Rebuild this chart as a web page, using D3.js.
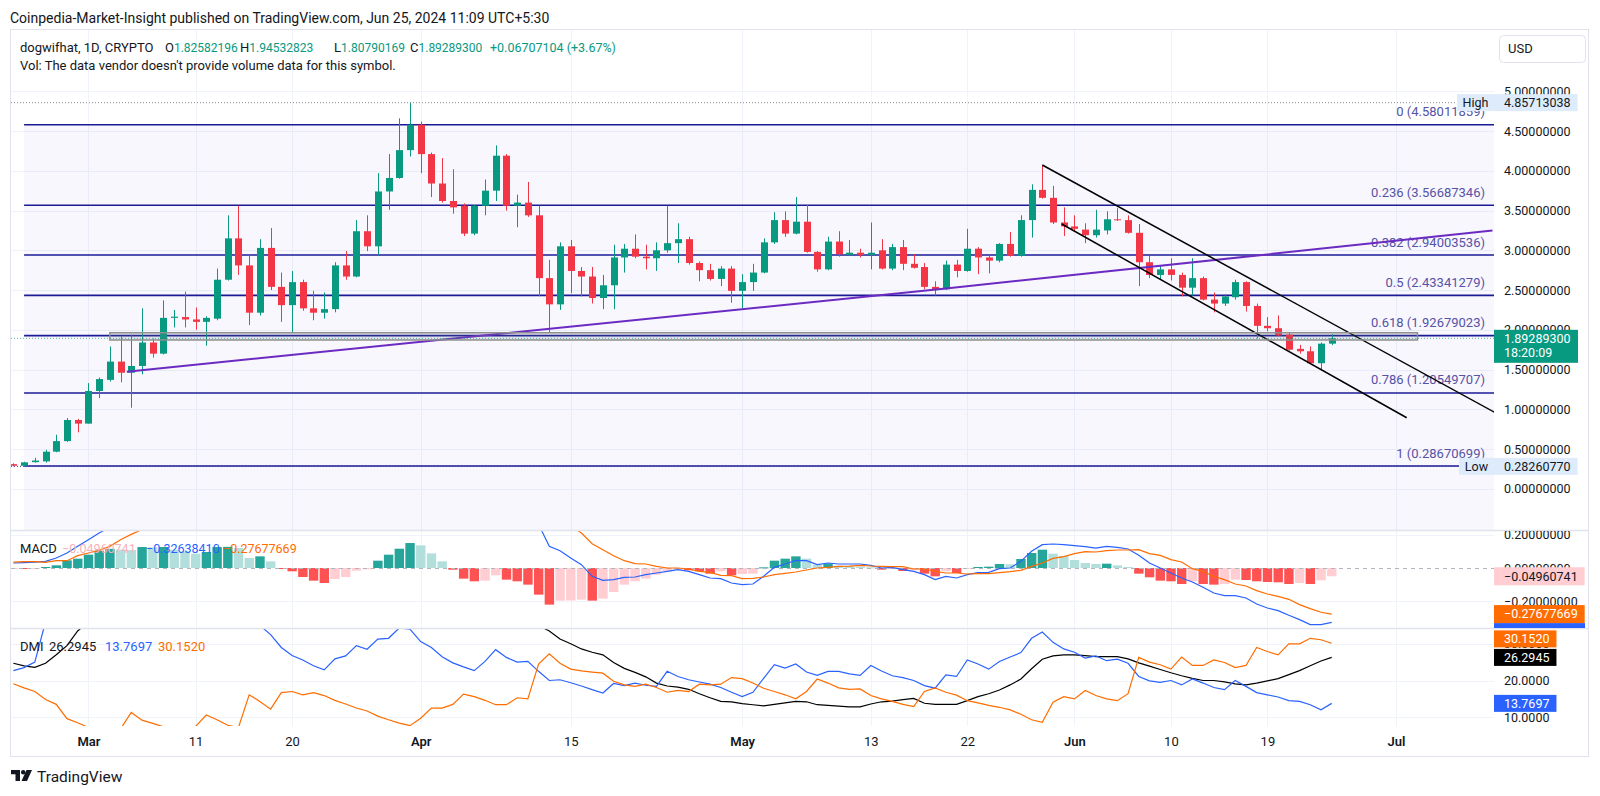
<!DOCTYPE html>
<html><head><meta charset="utf-8">
<script src="https://cdn.jsdelivr.net/npm/d3@7"></script>
<style>
body{margin:0;background:#fff;}
svg{display:block;font-family:Roboto,"Noto Sans",sans-serif;}
</style></head><body>
<svg id="c" width="1600" height="796"></svg>
<script>
// ---------------- DATA ----------------
const firstDay = "2024-02-23", lastDay = "2024-06-25";
const openP = [
 .31,.29,.335,.345,.467,.60,.865,.82,1.23,1.37,
 1.60,1.46,1.545,1.84,1.70,2.15,2.16,2.13,2.10,2.14,
 2.63,3.15,2.81,2.215,3.03,2.54,2.31,2.60,2.27,2.215,
 2.26,2.81,2.67,3.24,3.05,3.74,3.91,4.26,4.58,4.21,
 3.84,3.62,3.56,3.21,3.56,3.75,4.19,3.56,3.60,3.44,
 2.65,2.32,3.05,2.74,2.67,2.40,2.56,2.91,3.02,2.92,
 2.90,3.00,3.09,3.14,2.84,2.75,2.64,2.77,2.49,2.60,
 2.72,3.10,3.38,3.21,3.36,2.98,2.76,3.11,2.94,2.97,
 2.94,3.00,2.77,3.04,2.83,2.79,2.54,2.51,2.82,2.74,
 3.02,2.91,2.87,3.08,2.93,3.38,3.76,3.66,3.35,3.30,
 3.26,3.19,3.25,3.39,3.38,3.22,2.85,2.69,2.76,2.69,
 2.53,2.65,2.38,2.33,2.41,2.60,2.30,2.05,2.02,1.94,
 1.76,1.73,1.58,1.82582196];
const highP = [
 .32,.34,.39,.49,.68,.89,.88,1.33,1.40,1.79,
 1.92,1.94,2.27,1.89,2.37,2.25,2.48,2.28,2.17,2.77,
 3.44,3.56,2.94,3.14,3.28,2.72,2.74,2.63,2.49,2.47,
 2.85,2.99,3.38,3.44,3.97,4.21,4.66,4.85713038,4.62,4.23,
 4.16,4.02,3.59,3.57,3.89,4.32,4.21,3.70,3.86,3.56,
 2.88,3.10,3.13,2.79,2.79,2.69,3.07,3.08,3.20,3.07,
 3.10,3.56,3.34,3.17,2.86,2.83,2.80,2.80,2.70,2.83,
 3.15,3.48,3.49,3.67,3.57,2.99,3.17,3.24,3.13,3.02,
 3.35,3.14,3.08,3.13,2.95,2.84,2.61,2.87,2.88,3.27,
 3.04,2.94,3.09,3.23,3.44,3.83,4.07,3.81,3.54,3.44,
 3.34,3.51,3.49,3.53,3.44,3.33,2.93,2.81,2.90,2.72,
 2.90,2.67,2.47,2.45,2.63,2.61,2.33,2.16,2.18,1.97,
 1.81,1.79,1.84,1.94532823];
const lowP = [
 .2826077,.287,.33,.33,.46,.59,.71,.82,1.14,1.35,
 1.34,1.02,1.44,1.65,1.69,2.03,2.03,2.00,1.80,2.12,
 2.62,2.69,2.06,2.18,2.50,2.10,1.96,2.24,2.12,2.14,
 2.22,2.63,2.66,2.99,2.94,3.51,3.90,4.18,3.97,3.67,
 3.60,3.46,3.18,3.19,3.44,3.62,3.50,3.29,3.42,2.42,
 1.96,2.25,2.46,2.42,2.33,2.26,2.26,2.72,2.90,2.76,
 2.74,2.97,2.84,2.82,2.61,2.62,2.55,2.34,2.27,2.49,
 2.71,3.08,3.17,3.20,2.97,2.73,2.75,2.92,2.93,2.91,
 2.76,2.76,2.75,2.75,2.77,2.51,2.43,2.50,2.66,2.73,
 2.70,2.71,2.85,2.92,2.92,3.16,3.65,3.33,3.18,3.24,
 3.09,3.16,3.20,3.37,3.21,2.55,2.65,2.64,2.62,2.42,
 2.43,2.37,2.22,2.30,2.38,2.23,1.89,1.98,1.92,1.74,
 1.70,1.57,1.49,1.80790169];
const closeP = [
 .29,.333,.355,.467,.60,.865,.82,1.23,1.38,1.60,
 1.46,1.545,1.84,1.70,2.15,2.165,2.13,2.10,2.15,2.63,
 3.15,2.81,2.215,3.03,2.54,2.31,2.60,2.27,2.215,2.26,
 2.81,2.67,3.24,3.05,3.74,3.91,4.26,4.58,4.21,3.84,
 3.62,3.54,3.21,3.56,3.75,4.19,3.56,3.60,3.44,2.65,
 2.32,3.05,2.74,2.67,2.40,2.56,2.91,3.02,2.92,2.90,
 3.00,3.09,3.14,2.84,2.75,2.64,2.77,2.49,2.60,2.72,
 3.10,3.38,3.21,3.36,2.98,2.76,3.11,2.95,2.97,2.94,
 2.97,2.77,3.04,2.83,2.78,2.54,2.51,2.82,2.74,3.02,
 2.91,2.87,3.08,2.93,3.38,3.76,3.66,3.35,3.30,3.27,
 3.19,3.26,3.39,3.38,3.22,2.85,2.69,2.76,2.69,2.53,
 2.65,2.38,2.33,2.42,2.60,2.30,2.05,2.02,1.93,1.75,
 1.73,1.58,1.82582196,1.892893];

const macdLine = [
 .03,.032,.035,.04,.06,.09,.13,.17,.21,.245,
 .28,.31,.357,.387,.42,.43,.447,.454,.488,.55,
 .582,.605,.56,.588,.568,.521,.501,.454,.413,.376,
 .384,.382,.416,.422,.485,.541,.606,.678,.698,.672,
 .634,.581,.511,.475,.46,.481,.438,.408,.363,.263,
 .13,.104,.06,.02,-.05,-.074,-.07,-.056,-.054,-.04,
 -.03,-.02,-.01,-.02,-.04,-.06,-.064,-.09,-.10,-.096,
 -.05,.004,.024,.046,.044,.02,.03,.024,.024,.024,
 .016,0,.004,-.01,-.02,-.04,-.07,-.05,-.06,-.04,
 -.028,-.026,-.004,0,.04,.10,.14,.144,.14,.134,
 .128,.12,.13,.124,.114,.076,.03,0,-.03,-.06,
 -.084,-.116,-.15,-.166,-.166,-.18,-.216,-.24,-.256,-.284,
 -.31,-.34,-.34,-.3263841];
const signalLine = [
 .035,.038,.038,.034,.044,.044,.074,.09,.106,.13,
 .17,.202,.231,.263,.294,.32,.347,.368,.392,.424,
 .455,.485,.50,.518,.528,.526,.521,.508,.489,.466,
 .45,.436,.432,.43,.441,.461,.49,.528,.562,.584,
 .594,.591,.575,.555,.536,.525,.508,.488,.463,.423,
 .35,.30,.255,.21,.146,.11,.074,.044,.026,.024,
 .01,0,0,-.006,-.02,-.026,-.044,-.046,-.064,-.062,
 -.054,-.04,-.032,-.024,-.012,0,.004,.01,.011,.016,
 .012,.01,.008,.008,-.006,-.006,-.02,-.03,-.03,-.036,
 -.034,-.034,-.028,-.022,-.014,.01,.03,.058,.068,.086,
 .098,.096,.104,.108,.108,.11,.086,.076,.05,.036,
 -.004,-.02,-.05,-.07,-.096,-.108,-.136,-.156,-.17,-.188,
 -.22,-.244,-.266,-.27677669];
const macdHist = [
 -.005,-.006,-.003,.006,.016,.046,.056,.08,.104,.115,
 .11,.108,.126,.124,.126,.11,.10,.086,.096,.126,
 .127,.12,.06,.07,.04,-.005,-.02,-.054,-.076,-.09,
 -.066,-.054,-.016,-.008,.044,.08,.116,.15,.136,.088,
 .04,-.01,-.064,-.08,-.076,-.044,-.07,-.08,-.10,-.16,
 -.22,-.196,-.195,-.19,-.196,-.184,-.144,-.10,-.08,-.064,
 -.04,-.02,-.01,-.014,-.02,-.034,-.02,-.044,-.036,-.034,
 .004,.044,.056,.07,.056,.02,.026,.014,.013,.008,
 .004,-.01,-.004,-.018,-.014,-.034,-.05,-.02,-.03,-.004,
 .006,.008,.024,.022,.054,.09,.11,.086,.072,.048,
 .03,.024,.026,.016,.006,-.034,-.056,-.076,-.08,-.096,
 -.08,-.096,-.10,-.096,-.07,-.072,-.08,-.084,-.086,-.096,
 -.09,-.096,-.074,-.04960741];

const adx = [
 24.7,24,23.6,24.7,27,29.5,33.5,36,39,42,
 44,46,48,50,51,52,53,53,53,53,
 53,54,53,52,51,49,47,45,44,43,
 42,41,40,40,40,41,42,43,43,42,
 41,40,39,38,37.5,37,36.5,36,35.5,35,
 33.5,31.3,30,28.6,27.7,27,24.9,23.3,22.2,21,
 19.3,18.5,18.2,17.6,16.4,15.3,14.3,14.2,13.7,13.4,
 13.1,13.5,13.9,14.3,14.2,13.4,13.2,13,12.8,12.8,
 13.6,14.2,14.4,14.8,15.1,13.8,13.5,13.5,13.5,14.5,
 15.6,16.4,17.4,18.8,20.4,23.2,25.8,26.7,27,27,
 26.8,26.5,26.5,26.5,25.9,24.8,23.9,23,22.1,21.3,
 20.6,20,20,19.6,19.1,18.8,19.3,19.9,20.5,21.6,
 22.7,24,25.3,26.2945];
const plusDI = [
 22.7,23.5,25,36,45,50,48,55,52,50,
 48,45,44,46,44,42,40,37,34.4,38,
 42,44,38,35,32.5,29,26.8,25.6,24,22.9,
 25.9,26.7,29.5,28.5,31.3,31.5,34.3,34,30.6,29,
 26.5,24.8,23.7,22.7,25.2,28.4,26.3,25,25.2,22.5,
 20,20.2,19.4,18.5,17.5,16.6,19.2,18.6,19.3,18.7,
 18.4,22.5,21.1,20.2,19.6,19,18.1,16.8,15.6,16.8,
 20.6,24.3,23.4,24.5,22.3,21.4,22.5,22.5,21.8,21.4,
 24.1,22.6,21.3,20.8,20,18.6,17.9,21.5,21.1,25.6,
 24.5,23.1,25.2,26.4,27.6,31.5,33.2,30.4,28.6,27.7,
 26.1,26.7,25.4,25.8,24.7,21.1,19.9,19.5,20,18.8,
 20.4,19.3,18.1,17.5,20,18.4,16.7,16.1,15.5,14.5,
 14.3,13.4,12,13.7697];
const minusDI = [
 19.1,18,17,14.8,13.5,9.6,8.5,7.2,6.5,6.2,
 6.8,11.3,9.2,8.3,7.4,6.9,6.5,7.5,10.6,9.3,
 7.8,7.2,16.1,14.3,12.2,16.7,17,16.1,16.7,15.9,
 14.6,13.6,12.5,11.7,10.3,9.3,8.4,7.7,9.7,12.5,
 12.5,13.5,16.3,15.6,14.6,13.4,13.4,15.3,15,24.5,
 27.3,24.7,23.1,22.6,22.3,22,19.8,18.8,18.4,19,
 18.1,16.8,17.3,17,19,18.8,19,20.8,20.5,19.3,
 17.9,17,16.1,15,17,20.4,19.3,18,17.6,17.7,
 15.9,15,14.3,13.5,12.9,17,18,16.8,16,14.5,
 13.9,13.2,12.7,12,10.8,9.3,8.6,14.1,15.6,15,
 17.3,15.9,15,14.5,16.4,26.3,25,24.3,23.1,26.4,
 24.1,24.1,25.6,24.9,23.5,24.1,29,27.9,27,30,
 30,31.5,31.1,30.152];

const fibRatios = [0, 0.236, 0.382, 0.5, 0.618, 0.786, 1];
const fibPrices = [4.58011859, 3.56687346, 2.94003536, 2.43341279, 1.92679023, 1.20549707, 0.28670699];
const fibStart = "2024-02-24";
const trendLine = [["2024-03-04T14:00:00Z", 1.473], ["2024-05-20T00:00:00Z", 2.52], ["2024-07-10T00:00:00Z", 3.2487]];
const channelUpper = [["2024-05-29T00:00:00Z", 4.073], ["2024-07-10T12:00:00Z", 0.94]];
const channelLower = [["2024-05-30T19:30:00Z", 3.331], ["2024-07-02T00:00:00Z", 0.894]];
const zoneBox = {from: "2024-03-03", to: "2024-07-03", top: 1.963, bottom: 1.872};
const highValue = 4.85713038, lowValue = 0.2826077;

const priceTicks = [0,0.5,1,1.5,2,2.5,3,3.5,4,4.5,5];
const macdTicks = [-0.2, 0, 0.2];
const dmiTicks = [10, 20, 30];
const timeTickDates = ["2024-03-01","2024-03-11","2024-03-20","2024-04-01","2024-04-15","2024-05-01","2024-05-13","2024-05-22","2024-06-01","2024-06-10","2024-06-19","2024-07-01"];
const timeTickLabels = ["Mar","11","20","Apr","15","May","13","22","Jun","10","19","Jul"];

// ---------------- LAYOUT ----------------
const plotL = 11, plotR = 1494, axisR = 1588;
const mainTop = 30, mainBot = 530, macdTop = 531, macdBot = 628, dmiTop = 629, dmiBot = 726;
const UP = "#089981", DOWN = "#f23645", TXT = "#131722", GRID = "#f0f3fa";
const FONT = 'Roboto,"Noto Sans",sans-serif';

const dates = d3.utcDay.range(new Date(firstDay + "T00:00:00Z"), d3.utcDay.offset(new Date(lastDay + "T00:00:00Z"), 1));
const pd = s => new Date(s.length === 10 ? s + "T00:00:00Z" : s);

const x = d3.scaleUtc().domain([pd("2024-03-01"), pd("2024-07-01")]).range([88.4, 1396]);
const yP = d3.scaleLinear().domain([0, 5]).range([488.8, 91.3]);
const yM = d3.scaleLinear().domain([-0.2, 0.2]).range([601.3, 534.7]);
const yD = d3.scaleLinear().domain([10, 30]).range([717.2, 643.8]);

const svg = d3.select("#c");
const defs = svg.append("defs");
function clip(id, x0, y0, w, h) {
  defs.append("clipPath").attr("id", id).append("rect").attr("x", x0).attr("y", y0).attr("width", w).attr("height", h);
}
clip("cMain", plotL, mainTop, plotR - plotL, mainBot - mainTop);
clip("cMacd", plotL, macdTop, plotR - plotL, macdBot - macdTop);
clip("cDmi", plotL, dmiTop, plotR - plotL, dmiBot - dmiTop);
clip("aMain", plotR, mainTop, axisR - plotR, mainBot - mainTop);
clip("aMacd", plotR, macdTop, axisR - plotR, macdBot - macdTop);
clip("aDmi", plotR, dmiTop, axisR - plotR, dmiBot - dmiTop);

svg.append("rect").attr("width", 1600).attr("height", 796).attr("fill", "#fff");

// header
svg.append("text").attr("x", 10).attr("y", 22.5).attr("font-size", 14).attr("fill", TXT)
  .text("Coinpedia-Market-Insight published on TradingView.com, Jun 25, 2024 11:09 UTC+5:30");

// grid
const grid = svg.append("g").attr("stroke", GRID).attr("stroke-width", 1);
timeTickDates.forEach(d => {
  const xx = Math.round(x(pd(d))) + 0.5;
  grid.append("line").attr("x1", xx).attr("x2", xx).attr("y1", mainTop).attr("y2", dmiBot);
});
priceTicks.forEach(t => grid.append("line").attr("x1", plotL).attr("x2", plotR).attr("y1", Math.round(yP(t)) + .5).attr("y2", Math.round(yP(t)) + .5));
[-0.2, 0.2].forEach(t => grid.append("line").attr("x1", plotL).attr("x2", plotR).attr("y1", Math.round(yM(t)) + .5).attr("y2", Math.round(yM(t)) + .5));
dmiTicks.forEach(t => grid.append("line").attr("x1", plotL).attr("x2", plotR).attr("y1", Math.round(yD(t)) + .5).attr("y2", Math.round(yD(t)) + .5));

// ---------------- MAIN PANE ----------------
const main = svg.append("g").attr("clip-path", "url(#cMain)");
const fx0 = x(pd(fibStart));
main.append("rect").attr("x", fx0).attr("y", yP(fibPrices[0])).attr("width", plotR - fx0)
  .attr("height", mainBot - yP(fibPrices[0])).attr("fill", "rgba(40,40,200,0.035)");
fibPrices.forEach((p, i) => {
  const yy = yP(p);
  main.append("line").attr("x1", fx0).attr("x2", plotR).attr("y1", yy).attr("y2", yy)
    .attr("stroke", "#1b1b96").attr("stroke-width", 1.6);
  main.append("text").attr("x", 1485).attr("y", yy - 8.5).attr("text-anchor", "end")
    .attr("font-size", 13).attr("fill", "#5652a6")
    .text(`${fibRatios[i]} (${p.toFixed(8)})`);
});

// candles
const candles = main.append("g");
dates.forEach((dt, i) => {
  const cx = Math.round(x(dt));
  const up = closeP[i] >= openP[i];
  const col = up ? UP : DOWN;
  candles.append("line").attr("x1", cx + .5).attr("x2", cx + .5)
    .attr("y1", yP(highP[i])).attr("y2", yP(lowP[i])).attr("stroke", col).attr("stroke-width", 1);
  const yt = yP(Math.max(openP[i], closeP[i])), yb = yP(Math.min(openP[i], closeP[i]));
  candles.append("rect").attr("x", cx - 3).attr("y", yt).attr("width", 7)
    .attr("height", Math.max(1, yb - yt)).attr("fill", col);
});

// drawings
const lineP = d3.line().x(d => x(pd(d[0]))).y(d => yP(d[1]));
main.append("path").attr("d", lineP(trendLine)).attr("fill", "none").attr("stroke", "#6b2bc2").attr("stroke-width", 2);
main.append("path").attr("d", lineP(channelUpper)).attr("fill", "none").attr("stroke", "#000").attr("stroke-width", 1.5);
main.append("path").attr("d", lineP(channelLower)).attr("fill", "none").attr("stroke", "#000").attr("stroke-width", 1.5);
main.append("rect").attr("x", x(pd(zoneBox.from))).attr("y", yP(zoneBox.top))
  .attr("width", x(pd(zoneBox.to)) - x(pd(zoneBox.from))).attr("height", yP(zoneBox.bottom) - yP(zoneBox.top))
  .attr("fill", "rgba(120,123,134,0.15)").attr("stroke", "#8f8f8f").attr("stroke-width", 1.5);

// high / low / last price lines
main.append("line").attr("x1", plotL).attr("x2", plotR).attr("y1", yP(highValue)).attr("y2", yP(highValue))
  .attr("stroke", "#8a8e99").attr("stroke-width", 1).attr("stroke-dasharray", "1 2");
main.append("line").attr("x1", plotL).attr("x2", plotR).attr("y1", yP(lowValue)).attr("y2", yP(lowValue))
  .attr("stroke", "#3a3aa0").attr("stroke-width", 1).attr("stroke-dasharray", "1 2");
const lastClose = closeP[closeP.length - 1];
main.append("line").attr("x1", plotL).attr("x2", plotR).attr("y1", yP(lastClose)).attr("y2", yP(lastClose))
  .attr("stroke", UP).attr("stroke-opacity", .7).attr("stroke-width", 1).attr("stroke-dasharray", "1 2");

// ---------------- MACD PANE ----------------
const mp = svg.append("g").attr("clip-path", "url(#cMacd)");
macdHist.forEach((h, i) => {
  const prev = i > 0 ? macdHist[i - 1] : h;
  const col = h >= 0 ? (h > prev ? "#26a69a" : "#b2dfdb") : (h < prev ? "#ff5252" : "#ffcdd2");
  const cx = x(dates[i]);
  const y0 = yM(0), y1 = yM(h);
  mp.append("rect").attr("x", cx - 4.6).attr("width", 9.4).attr("y", Math.min(y0, y1))
    .attr("height", Math.max(1, Math.abs(y1 - y0))).attr("fill", col);
});
mp.append("line").attr("x1", plotL).attr("x2", plotR).attr("y1", Math.round(yM(0)) + .5).attr("y2", Math.round(yM(0)) + .5)
  .attr("stroke", "#b2b5be").attr("stroke-dasharray", "4 4");
const lm = arr => d3.line().x((d, i) => x(dates[i])).y(d => yM(d))(arr);
mp.append("path").attr("d", lm(macdLine)).attr("fill", "none").attr("stroke", "#2962ff").attr("stroke-width", 1.2);
mp.append("path").attr("d", lm(signalLine)).attr("fill", "none").attr("stroke", "#ff6d00").attr("stroke-width", 1.2);

// ---------------- DMI PANE ----------------
const dp = svg.append("g").attr("clip-path", "url(#cDmi)");
const ld = arr => d3.line().x((d, i) => x(dates[i])).y(d => yD(d))(arr);
dp.append("path").attr("d", ld(adx)).attr("fill", "none").attr("stroke", "#000").attr("stroke-width", 1.2);
dp.append("path").attr("d", ld(plusDI)).attr("fill", "none").attr("stroke", "#2962ff").attr("stroke-width", 1.2);
dp.append("path").attr("d", ld(minusDI)).attr("fill", "none").attr("stroke", "#ff6d00").attr("stroke-width", 1.2);

// ---------------- FRAME ----------------
svg.append("rect").attr("x", 10.5).attr("y", 29.5).attr("width", axisR - 10).attr("height", 727)
  .attr("fill", "none").attr("stroke", "#e0e3eb");
[530.5, 628.5].forEach(yy => svg.append("line").attr("x1", 11).attr("x2", axisR).attr("y1", yy).attr("y2", yy)
  .attr("stroke", "#e0e3eb").attr("stroke-width", 1.5));

// ---------------- AXES ----------------
function styleAxis(g) {
  g.select(".domain").remove();
  g.attr("font-family", FONT).attr("font-size", 12.5);
  g.selectAll("text").attr("fill", TXT);
}
svg.append("g").attr("clip-path", "url(#aMain)").append("g").attr("transform", `translate(${plotR},0)`)
  .call(d3.axisRight(yP).tickValues(priceTicks).tickSize(0).tickPadding(10).tickFormat(d3.format(".8f"))).call(styleAxis);
svg.append("g").attr("clip-path", "url(#aMacd)").append("g").attr("transform", `translate(${plotR},0)`)
  .call(d3.axisRight(yM).tickValues(macdTicks).tickSize(0).tickPadding(10).tickFormat(d3.format(".8f"))).call(styleAxis);
svg.append("g").attr("clip-path", "url(#aDmi)").append("g").attr("transform", `translate(${plotR},0)`)
  .call(d3.axisRight(yD).tickValues(dmiTicks).tickSize(0).tickPadding(10).tickFormat(d3.format(".4f"))).call(styleAxis);

const tAx = svg.append("g").attr("transform", `translate(0,${dmiBot + 2})`)
  .call(d3.axisBottom(x).tickValues(timeTickDates.map(pd)).tickSize(0).tickPadding(9)
    .tickFormat((d, i) => timeTickLabels[i]));
tAx.call(styleAxis).attr("font-size", 13);
tAx.selectAll("text").attr("font-weight", (d, i) => /^[A-Z]/.test(timeTickLabels[i]) ? 600 : 400);

// ---------------- BADGES ----------------
function badge(parent, yc, txt, bg, fg, h = 17, paneBottom = Infinity, w = null) {
  const g = parent.append("g");
  const r = g.append("rect").attr("x", plotR).attr("y", yc - h / 2).attr("height", h).attr("fill", bg);
  if (yc < paneBottom) {
    const t = g.append("text").attr("x", plotR + 10).attr("y", yc + 4.4).attr("font-size", 12.5).attr("fill", fg).text(txt);
    r.attr("width", t.node().getComputedTextLength() + 17);
  } else {
    r.attr("width", w || 91);
  }
  return g;
}
// stack badges so they do not overlap: earlier ones keep their place, later ones are pushed away
function stackBadges(items, h) {
  const placed = [];
  items.forEach(it => {
    let y = it.y;
    placed.forEach(p => {
      if (Math.abs(y - p.y) < h) y = y >= p.y ? p.y + h : p.y - h;
    });
    it.y = y; placed.push(it);
  });
  return items;
}
const fmt8 = d3.format(".8f"), fmt4 = d3.format(".4f");
const bMain = svg.append("g").attr("clip-path", "url(#aMain)");
const bMainL = svg.append("g");
[[highValue, "High"], [lowValue, "Low"]].forEach(([v, lab]) => {
  const yc = yP(v);
  badge(bMain, yc, fmt8(v), "#deebfb", TXT, 17);
  const lw = lab === "High" ? 37 : 35;
  bMainL.append("rect").attr("x", plotR - lw).attr("y", yc - 8.5).attr("width", lw).attr("height", 17).attr("fill", "#deebfb");
  bMainL.append("text").attr("x", plotR - lw / 2).attr("y", yc + 4.4).attr("text-anchor", "middle")
    .attr("font-size", 12.5).attr("fill", TXT).text(lab);
});
{
  const yc = yP(lastClose);
  const g = svg.append("g");
  g.append("rect").attr("x", plotR).attr("y", yc - 8.5).attr("width", 84).attr("height", 33).attr("fill", UP);
  g.append("text").attr("x", plotR + 10).attr("y", yc + 5).attr("font-size", 12.5).attr("fill", "#fff").text(fmt8(lastClose));
  g.append("text").attr("x", plotR + 10).attr("y", yc + 19).attr("font-size", 12.5).attr("fill", "#fff").text("18:20:09");
}
const bMacd = svg.append("g").attr("clip-path", "url(#aMacd)");
const nM = macdLine.length - 1;
{
  const items = stackBadges([
    {v: macdHist[nM], y: yM(macdHist[nM]), bg: "#ffcdd2", fg: TXT},
    {v: signalLine[nM], y: yM(signalLine[nM]), bg: "#ff6d00", fg: "#fff"},
    {v: macdLine[nM], y: yM(macdLine[nM]), bg: "#2962ff", fg: "#fff"}
  ], 18);
  [items[0], items[2], items[1]].forEach(it => badge(bMacd, it.y, fmt8(it.v), it.bg, it.fg, 18, macdBot - 4, 91));
}

const bDmi = svg.append("g").attr("clip-path", "url(#aDmi)");
{
  const items = stackBadges([
    {v: adx[nM], y: yD(adx[nM]), bg: "#000"},
    {v: plusDI[nM], y: yD(plusDI[nM]), bg: "#2962ff"},
    {v: minusDI[nM], y: yD(minusDI[nM]), bg: "#ff6d00"}
  ], 18.5);
  items.forEach(it => badge(bDmi, it.y, fmt4(it.v), it.bg, "#fff", 17));
}

// ---------------- LEGENDS ----------------
const nP = closeP.length - 1;
const chg = closeP[nP] - closeP[nP - 1];
const lg1 = svg.append("text").attr("y", 51.5).attr("font-size", 13).attr("fill", TXT);
lg1.append("tspan").attr("x", 20).text("dogwifhat, 1D, CRYPTO");
[["O", openP[nP], 165], ["H", highP[nP], 240], ["L", lowP[nP], 334], ["C", closeP[nP], 410]].forEach(([k, v, xx]) => {
  lg1.append("tspan").attr("x", xx).text(k);
  lg1.append("tspan").attr("fill", UP).attr("font-size", 12).text(fmt8(v));
});
lg1.append("tspan").attr("x", 490).attr("fill", UP).attr("font-size", 12.5)
  .text(`+${chg.toFixed(8)} (+${(chg / closeP[nP - 1] * 100).toFixed(2)}%)`);
svg.append("text").attr("x", 20).attr("y", 69.5).attr("font-size", 13).attr("fill", TXT)
  .text("Vol: The data vendor doesn't provide volume data for this symbol.");

const lg2 = svg.append("text").attr("y", 552.5).attr("font-size", 12.5);
lg2.append("tspan").attr("x", 20).attr("fill", TXT).attr("font-size", 13).text("MACD");
lg2.append("tspan").attr("x", 62).attr("fill", "#f7b0bb").text(fmt8(macdHist[nM]));
lg2.append("tspan").attr("x", 146).attr("fill", "#2962ff").text(fmt8(macdLine[nM]));
lg2.append("tspan").attr("x", 223).attr("fill", "#ff6d00").text(fmt8(signalLine[nM]));

const lg3 = svg.append("text").attr("y", 650.5).attr("font-size", 13);
lg3.append("tspan").attr("x", 20).attr("fill", TXT).text("DMI");
lg3.append("tspan").attr("x", 49).attr("fill", TXT).text(fmt4(adx[nM]));
lg3.append("tspan").attr("x", 105).attr("fill", "#2962ff").text(fmt4(plusDI[nM]));
lg3.append("tspan").attr("x", 158).attr("fill", "#ff6d00").text(fmt4(minusDI[nM]));

// USD button
svg.append("rect").attr("x", 1499.5).attr("y", 35.5).attr("width", 86).attr("height", 27).attr("rx", 4)
  .attr("fill", "#fff").attr("stroke", "#e0e3eb");
svg.append("text").attr("x", 1508).attr("y", 53).attr("font-size", 13).attr("fill", TXT).text("USD");

// watermark
const wm = svg.append("g").attr("transform", "translate(11,770)").attr("fill", TXT);
wm.append("path").attr("d", "M0 0H9V11H4.5V4.2H0Z");
wm.append("circle").attr("cx", 12.2).attr("cy", 2.2).attr("r", 2.2);
wm.append("path").attr("d", "M15.5 0H21L16 11H10.5Z");
svg.append("text").attr("x", 37).attr("y", 782).attr("font-size", 15.5).attr("fill", TXT).text("TradingView");
</script>
</body></html>
